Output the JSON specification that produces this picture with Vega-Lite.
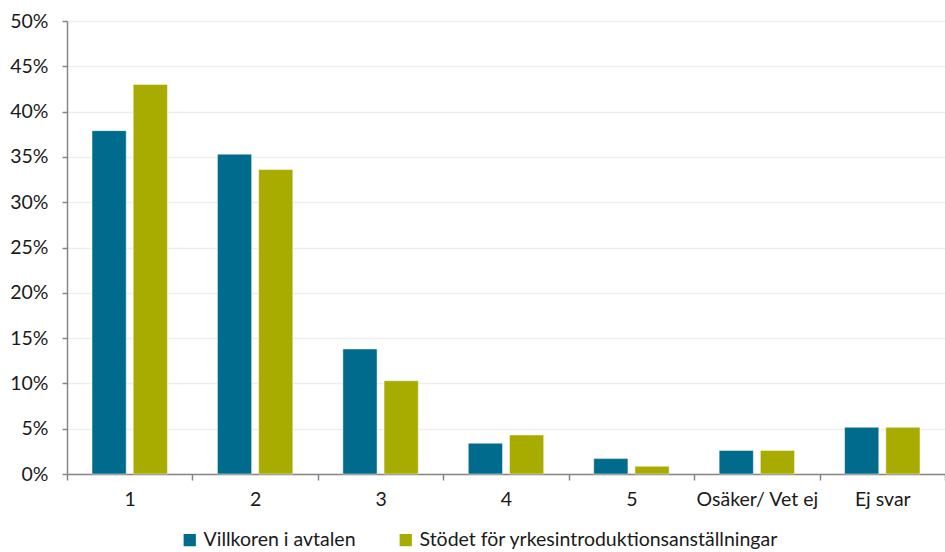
{
  "$schema": "https://vega.github.io/schema/vega-lite/v6.json",
  "width": 878,
  "height": 453,
  "autosize": {"type": "none"},
  "padding": {"left": 67, "top": 21, "right": 0, "bottom": 78},
  "background": "white",
  "config": {
    "view": {"stroke": null},
    "font": "Lato",
    "axis": {"labelFont": "Lato", "labelFontSize": 19.5, "labelColor": "#1a1a1a", "domainColor": "#868686", "tickColor": "#868686", "domainWidth": 1.5, "tickWidth": 1.5}
  },
  "data": {
    "values": [
      {"kategori": "1", "serie": "Villkoren i avtalen", "andel": 0.379},
      {"kategori": "1", "serie": "Stödet för yrkesintroduktionsanställningar", "andel": 0.430},
      {"kategori": "2", "serie": "Villkoren i avtalen", "andel": 0.353},
      {"kategori": "2", "serie": "Stödet för yrkesintroduktionsanställningar", "andel": 0.336},
      {"kategori": "3", "serie": "Villkoren i avtalen", "andel": 0.138},
      {"kategori": "3", "serie": "Stödet för yrkesintroduktionsanställningar", "andel": 0.103},
      {"kategori": "4", "serie": "Villkoren i avtalen", "andel": 0.034},
      {"kategori": "4", "serie": "Stödet för yrkesintroduktionsanställningar", "andel": 0.043},
      {"kategori": "5", "serie": "Villkoren i avtalen", "andel": 0.017},
      {"kategori": "5", "serie": "Stödet för yrkesintroduktionsanställningar", "andel": 0.0085},
      {"kategori": "Osäker/ Vet ej", "serie": "Villkoren i avtalen", "andel": 0.026},
      {"kategori": "Osäker/ Vet ej", "serie": "Stödet för yrkesintroduktionsanställningar", "andel": 0.026},
      {"kategori": "Ej svar", "serie": "Villkoren i avtalen", "andel": 0.0515},
      {"kategori": "Ej svar", "serie": "Stödet för yrkesintroduktionsanställningar", "andel": 0.0515}
    ]
  },
  "mark": {"type": "bar", "stroke": "white", "strokeWidth": 0.8, "strokeOpacity": 0.6},
  "encoding": {
    "x": {
      "field": "kategori", "type": "nominal", "sort": null,
      "scale": {"paddingInner": 0, "paddingOuter": 0},
      "axis": {"title": null, "labelAngle": 0, "tickBand": "extent", "tickSize": 6, "labelPadding": 10, "grid": false}
    },
    "xOffset": {
      "field": "serie", "type": "nominal",
      "sort": ["Villkoren i avtalen", "Stödet för yrkesintroduktionsanställningar"],
      "scale": {"paddingInner": 0.17, "paddingOuter": 0.607}
    },
    "y": {
      "field": "andel", "type": "quantitative",
      "scale": {"domain": [0, 0.5], "nice": false},
      "axis": {"title": null, "format": ".0%", "values": [0, 0.05, 0.1, 0.15, 0.2, 0.25, 0.3, 0.35, 0.4, 0.45, 0.5], "grid": true, "gridColor": "#eeeeee", "gridWidth": 1.5, "tickSize": 5, "labelPadding": 14}
    },
    "color": {
      "field": "serie", "type": "nominal",
      "sort": ["Villkoren i avtalen", "Stödet för yrkesintroduktionsanställningar"],
      "scale": {"range": ["#006b8c", "#a9ac00"]},
      "legend": {"title": null, "orient": "none", "direction": "horizontal", "legendX": 113, "legendY": 509, "symbolType": "square", "symbolSize": 150, "symbolStrokeWidth": 0, "labelFont": "Lato", "labelFontSize": 19.5, "labelColor": "#1a1a1a", "labelLimit": 0, "columnPadding": 40, "labelOffset": 4}
    }
  }
}
